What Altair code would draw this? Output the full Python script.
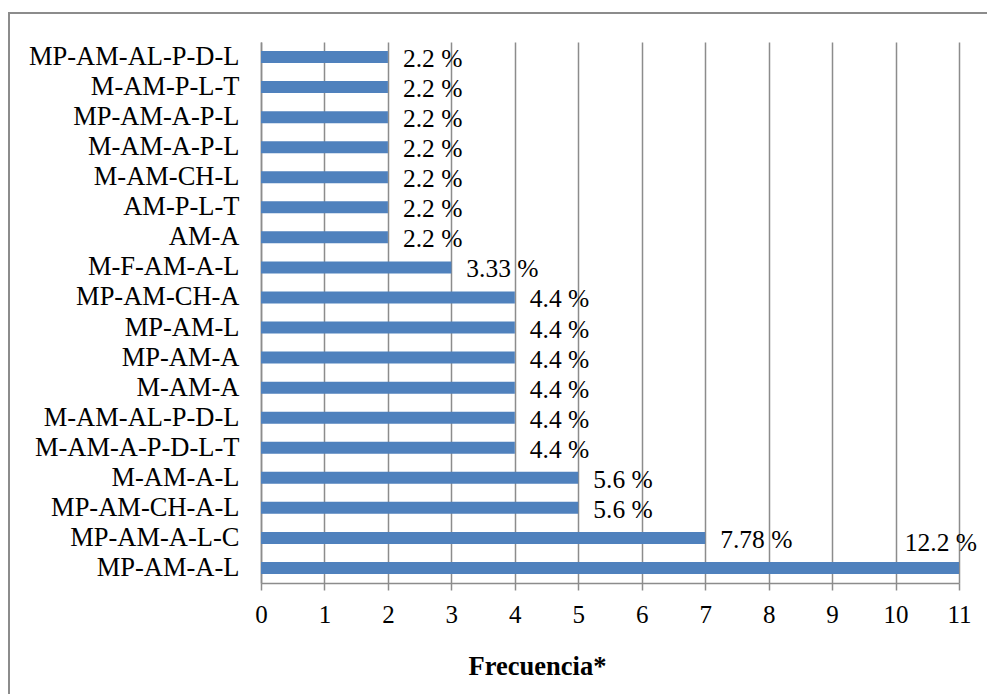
import altair as alt
import pandas as pd

# Combinaciones (de arriba hacia abajo), frecuencia y porcentaje rotulado
categorias = [
    "MP-AM-AL-P-D-L", "M-AM-P-L-T", "MP-AM-A-P-L", "M-AM-A-P-L", "M-AM-CH-L",
    "AM-P-L-T", "AM-A", "M-F-AM-A-L", "MP-AM-CH-A", "MP-AM-L", "MP-AM-A",
    "M-AM-A", "M-AM-AL-P-D-L", "M-AM-A-P-D-L-T", "M-AM-A-L", "MP-AM-CH-A-L",
    "MP-AM-A-L-C", "MP-AM-A-L",
]
frecuencias = [2, 2, 2, 2, 2, 2, 2, 3, 4, 4, 4, 4, 4, 4, 5, 5, 7, 11]
porcentajes = [
    "2.2 %", "2.2 %", "2.2 %", "2.2 %", "2.2 %", "2.2 %", "2.2 %", "3.33 %",
    "4.4 %", "4.4 %", "4.4 %", "4.4 %", "4.4 %", "4.4 %", "5.6 %", "5.6 %",
    "7.78 %", "12.2 %",
]
ticks_x = list(range(0, 12))

df = pd.DataFrame({"cat": categorias, "freq": frecuencias, "pct": porcentajes})

FONT = "Liberation Serif, Tinos, DejaVu Serif, serif"
GRID = "#8c8c8c"
W, H = 698, 541

x_enc = alt.X(
    "freq:Q",
    scale=alt.Scale(domain=[0, 11], nice=False),
    axis=alt.Axis(
        values=ticks_x,
        format="d",
        title="Frecuencia*",
        titleFont=FONT,
        titleFontSize=26.5,
        titleFontWeight="bold",
        titleColor="black",
        titleX=276,
        titleY=91,
        titleAlign="center",
        titleBaseline="alphabetic",
        labelFont=FONT,
        labelFontSize=25,
        labelColor="black",
        labelPadding=12,
        labelFlush=False,
        tickSize=7,
        tickColor=GRID,
        tickWidth=1.5,
        domainColor=GRID,
        domainWidth=1.5,
        grid=True,
        gridColor=GRID,
        gridWidth=1.5,
    ),
)
y_enc = alt.Y(
    "cat:N",
    sort=categorias,
    scale=alt.Scale(paddingInner=0.6, paddingOuter=0.3),
    axis=alt.Axis(
        title=None,
        labelFont=FONT,
        labelFontSize=26.5,
        labelColor="black",
        labelPadding=22,
        labelLimit=0,
        ticks=False,
        domainColor=GRID,
        domainWidth=1.5,
    ),
)

base = alt.Chart(df)

bars = base.mark_bar(color="#4F81BD", size=12).encode(x=x_enc, y=y_enc)

etiquetas = (
    base.transform_joinaggregate(maximo="max(freq)")
    .transform_filter("datum.freq < datum.maximo")
    .mark_text(align="left", baseline="middle", dx=15, dy=2,
               font=FONT, fontSize=25.5, color="black")
    .encode(x="freq:Q", y=alt.Y("cat:N", sort=categorias), text="pct:N")
)

etiqueta_max = (
    base.transform_joinaggregate(maximo="max(freq)")
    .transform_filter("datum.freq == datum.maximo")
    .mark_text(align="right", baseline="middle", dx=18, dy=-25,
               font=FONT, fontSize=25.5, color="black")
    .encode(x="freq:Q", y=alt.Y("cat:N", sort=categorias), text="pct:N")
)

# Marco del área del gráfico
marco = base.mark_rect(filled=False, stroke="#8c8c8c", strokeWidth=1.5).encode(
    x=alt.value(-252), x2=alt.value(760), y=alt.value(-29), y2=alt.value(700)
)

chart = (
    alt.layer(marco, bars, etiquetas, etiqueta_max)
    .properties(
        width=W,
        height=H,
        autosize=alt.AutoSizeParams(type="none"),
        padding={"left": 261, "top": 42, "right": 28, "bottom": 111},
        background="white",
    )
    .configure_view(stroke=None)
)

chart.save("out.html", embed_options={"renderer": "svg", "actions": False})
